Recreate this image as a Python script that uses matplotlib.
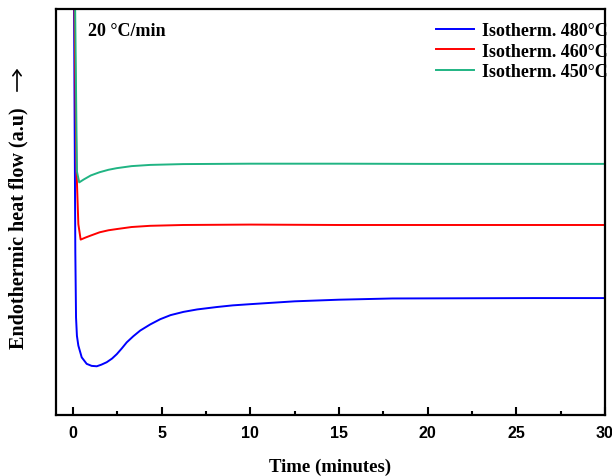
import matplotlib
matplotlib.use("Agg")
import matplotlib.pyplot as plt
from matplotlib.ticker import MultipleLocator
from matplotlib.patches import FancyArrowPatch

# Data (arbitrary heat-flow units)
t_480 = [0.0, 0.05, 0.13, 0.17, 0.22, 0.30, 0.49, 0.77, 1.05, 1.34, 1.6, 1.9, 2.2, 2.47, 2.75, 3.03, 3.4, 3.79,
         4.35, 4.92, 5.5, 6.23, 7.0, 8.12, 9.0, 10.0, 12.5, 15.0, 18.0, 22.0, 26.0, 30.0]
y_480 = [110, 105, 40, 24, 19.5, 17.1, 14.2, 12.6, 12.1, 12.0, 12.4, 13.0, 13.9, 15.0, 16.4, 17.9, 19.4, 20.8,
         22.3, 23.6, 24.6, 25.4, 26.0, 26.6, 27.0, 27.3, 28.0, 28.4, 28.7, 28.75, 28.8, 28.8]

t_460 = [0.0, 0.08, 0.15, 0.20, 0.30, 0.43, 0.7, 1.0, 1.5, 2.0, 2.47, 3.3, 4.35, 6.2, 10.0, 15.0, 20.0, 25.0, 30.0]
y_460 = [110, 102, 75, 60, 47, 43.2, 43.7, 44.2, 45.0, 45.5, 45.8, 46.3, 46.6, 46.8, 46.9, 46.8, 46.8, 46.8, 46.8]

t_450 = [0.0, 0.12, 0.17, 0.22, 0.35, 0.6, 1.0, 1.5, 2.0, 2.47, 3.3, 4.35, 6.2, 10.0, 15.0, 20.0, 25.0, 30.0]
y_450 = [110, 100, 80, 60, 57.3, 58.0, 59.0, 59.8, 60.4, 60.8, 61.3, 61.6, 61.8, 61.9, 61.9, 61.85, 61.85, 61.85]

labels = ["Isotherm. 480°C", "Isotherm. 460°C", "Isotherm. 450°C"]
colors = ["#0000ff", "#ff0000", "#20b483"]
xticks = [0, 5, 10, 15, 20, 25, 30]

serif = ["Liberation Serif", "DejaVu Serif"]
sans = ["Liberation Sans", "DejaVu Sans"]

W, H = 612, 477
fig = plt.figure(figsize=(W/100, H/100), dpi=100)
ax = fig.add_axes([56/W, 61/H, 549/W, 406/H])

for t, y, lab, c in zip([t_480, t_460, t_450], [y_480, y_460, y_450], labels, colors):
    ax.plot(t, y, color=c, lw=1.4, label=lab)

ax.set_xlim(-0.96, 30.0)
ax.set_ylim(0, 100)
ax.set_xticks(xticks)
ax.xaxis.set_minor_locator(MultipleLocator(2.5))
ax.set_yticks([])
for s in ax.spines.values():
    s.set_linewidth(1.6)
ax.tick_params(axis="x", which="major", direction="in", length=6, width=1.5, pad=7)
ax.tick_params(axis="x", which="minor", direction="in", length=3, width=1.5)
for lbl in ax.get_xticklabels():
    lbl.set_fontfamily(sans)
    lbl.set_fontweight("bold")
    lbl.set_fontsize(11.5)

ax.set_xlabel("Time (minutes)", fontfamily=serif, fontweight="bold", fontsize=13.5, labelpad=13)
fig.text(18/W, 1 - 228/H, "Endothermic heat flow (a.u)", rotation=90,
         ha="center", va="center", fontfamily=serif, fontweight="bold", fontsize=14.5)
arrow = FancyArrowPatch((17/W, 1 - 95/H), (17/W, 1 - 67/H), transform=fig.transFigure,
                        arrowstyle="->,head_length=4,head_width=3", lw=1.2, color="black")
fig.patches.append(arrow)

ax.text((88-56)/549, (416-31)/406, "20 °C/min", transform=ax.transAxes, ha="left", va="center",
        fontfamily=serif, fontweight="bold", fontsize=13)

leg = ax.legend(loc="upper left", bbox_to_anchor=((436-56)/549, (416-23)/406), frameon=False,
                borderaxespad=0, borderpad=0, handlelength=2.1, handletextpad=0.45,
                labelspacing=0.2, prop={"family": serif, "weight": "bold", "size": 13})

fig.savefig("out.png", dpi=100)
